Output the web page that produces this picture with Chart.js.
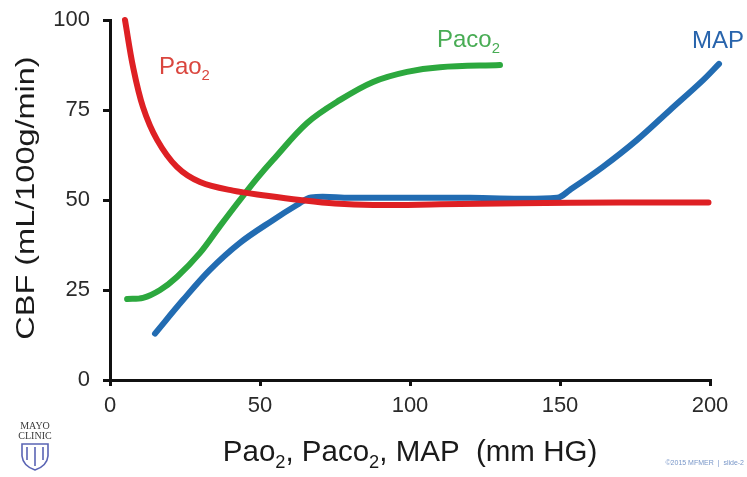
<!DOCTYPE html>
<html>
<head>
<meta charset="utf-8">
<script src="https://cdn.jsdelivr.net/npm/chart.js@4/dist/chart.umd.min.js"></script>
<style>
  html, body { margin: 0; padding: 0; background: #ffffff; }
  #wrap { width: 747px; height: 477px; position: relative; }
</style>
</head>
<body>
<div id="wrap"><canvas id="c" width="747" height="477"></canvas></div>
<script>
// ---- data ----
const xTicks = [0, 50, 100, 150, 200];
const yTicks = [0, 25, 50, 75, 100];

const paO2X = [5, 7.7, 11, 15.7, 22.3, 30, 41, 52.3, 63.3, 75, 87.7, 110, 136.7, 170, 199.5];
const paO2Y = [100, 86.9, 75.8, 66.7, 59.2, 55, 52.6, 51.2, 50.0, 49.0, 48.6, 48.8, 49.1, 49.3, 49.3];

const paCO2X = [5.7, 11, 16.7, 22.3, 30, 36.7, 43.3, 49, 54.3, 65.7, 76.7, 87.7, 99, 110, 130];
const paCO2Y = [22.5, 22.8, 25, 28.6, 35.3, 42.8, 50, 56, 61.1, 71.4, 77.8, 82.8, 85.6, 86.9, 87.5];

const mapX = [15, 24.3, 33.3, 43.3, 54.3, 62.3, 67, 80, 100, 120, 149, 153.3, 164.3, 175.7, 186.7, 197.7, 203];
const mapY = [12.9, 22.2, 30.6, 38.1, 44.4, 48.6, 50.7, 50.6, 50.6, 50.6, 50.6, 52.8, 59.2, 66.7, 75, 83.3, 87.8];

const seriesNames = ['Pao', 'Paco', 'MAP'];
const xTitle = [['Pao'], ['2', 1], [', Paco'], ['2', 1], [', MAP  (mm HG)']];
const yTitle = 'CBF (mL/100g/min)';
const footnote = '\u00A92015 MFMER  |  slide-2';

// ---- styling ----
const RED = 'rgb(222,32,36)';
const GREEN = 'rgb(44,168,62)';
const BLUE = 'rgb(34,108,178)';
const FONT = '"Liberation Sans", Arial, Helvetica, sans-serif';

function pts(xs, ys) { return xs.map((x, i) => ({ x: x, y: ys[i] })); }

function drawRich(ctx, x, y, segs, size, color, align) {
  const items = segs.map(s => {
    const fs = s[1] ? size * 0.62 : size;
    ctx.font = fs + 'px ' + FONT;
    return { t: s[0], fs: fs, w: ctx.measureText(s[0]).width, dy: s[1] ? size * 0.24 : 0 };
  });
  const total = items.reduce((a, b) => a + b.w, 0);
  let cx = align === 'center' ? x - total / 2 : x;
  ctx.fillStyle = color;
  ctx.textBaseline = 'alphabetic';
  ctx.textAlign = 'left';
  items.forEach(it => {
    ctx.font = it.fs + 'px ' + FONT;
    ctx.fillText(it.t, cx, y + it.dy);
    cx += it.w;
  });
}

const textPlugin = {
  id: 'texts',
  afterDraw(chart) {
    const ctx = chart.ctx;
    const xs = chart.scales.x, ys = chart.scales.y;
    const ca = chart.chartArea;
    ctx.save();
    // series labels
    drawRich(ctx, xs.getPixelForValue(16.3), ys.getPixelForValue(85), [[seriesNames[0]], ['2', 1]], 24, 'rgb(218,70,62)', 'left');
    drawRich(ctx, xs.getPixelForValue(109), ys.getPixelForValue(92.5), [[seriesNames[1]], ['2', 1]], 24, 'rgb(72,172,84)', 'left');
    drawRich(ctx, xs.getPixelForValue(194), ys.getPixelForValue(92.3), [[seriesNames[2]]], 24, 'rgb(40,100,172)', 'left');
    // x title
    drawRich(ctx, (ca.left + ca.right) / 2, 461, xTitle, 29.5, '#1a1a1a', 'center');
    // y title
    ctx.save();
    ctx.translate(34, (ca.top + ca.bottom) / 2 - 2);
    ctx.rotate(-Math.PI / 2);
    ctx.scale(1.16, 0.94);
    drawRich(ctx, 0, 0, [[yTitle]], 28, '#1a1a1a', 'center');
    ctx.restore();
    // footnote
    ctx.font = '7px ' + FONT;
    ctx.fillStyle = 'rgb(120,150,200)';
    ctx.textAlign = 'right';
    ctx.textBaseline = 'middle';
    ctx.fillText(footnote, 744, 463);
    // logo
    ctx.fillStyle = '#3a3a3a';
    ctx.textAlign = 'center';
    ctx.font = '10px "Liberation Serif", "Times New Roman", serif';
    ctx.fillText('MAYO', 35, 426);
    ctx.fillText('CLINIC', 35, 436);
    ctx.strokeStyle = 'rgb(90,100,180)';
    ctx.lineWidth = 1.6;
    ctx.beginPath();
    ctx.moveTo(22, 444); ctx.lineTo(48, 444); ctx.lineTo(48, 456);
    ctx.quadraticCurveTo(47, 466, 35, 470);
    ctx.quadraticCurveTo(23, 466, 22, 456); ctx.closePath();
    ctx.stroke();
    ctx.beginPath();
    ctx.moveTo(27, 447); ctx.lineTo(27, 460);
    ctx.moveTo(35, 447); ctx.lineTo(35, 466);
    ctx.moveTo(43, 447); ctx.lineTo(43, 460);
    ctx.stroke();
    ctx.restore();
  }
};

const common = { fill: false, pointRadius: 0, borderWidth: 6, tension: 0.35, borderCapStyle: 'round', borderJoinStyle: 'round', clip: false };

new Chart(document.getElementById('c'), {
  type: 'line',
  data: {
    datasets: [
      Object.assign({ label: 'Pao2', data: pts(paO2X, paO2Y), borderColor: RED }, common),
      Object.assign({ label: 'MAP', data: pts(mapX, mapY), borderColor: BLUE }, common),
      Object.assign({ label: 'Paco2', data: pts(paCO2X, paCO2Y), borderColor: GREEN }, common)
    ]
  },
  options: {
    responsive: false,
    animation: false,
    devicePixelRatio: 1,
    layout: { padding: { left: 0, top: 20, right: 37, bottom: 0 } },
    plugins: { legend: { display: false }, tooltip: { enabled: false } },
    scales: {
      x: {
        type: 'linear', min: 0, max: 200,
        afterFit(s) { s.height = 97; s.paddingLeft = 0; s.paddingRight = 0; },
        afterBuildTicks(s) { s.ticks = xTicks.map(v => ({ value: v })); },
        border: { display: true, color: '#111', width: 3 },
        grid: { display: true, drawOnChartArea: false, drawTicks: true, tickLength: 6, color: '#111', lineWidth: 3 },
        ticks: { color: '#2a2a2a', font: { size: 22, family: FONT }, padding: 7, maxRotation: 0 }
      },
      y: {
        type: 'linear', min: 0, max: 100,
        afterFit(s) { s.width = 110; s.paddingTop = 0; s.paddingBottom = 0; },
        afterBuildTicks(s) { s.ticks = yTicks.map(v => ({ value: v })); },
        border: { display: true, color: '#111', width: 3 },
        grid: { display: true, drawOnChartArea: false, drawTicks: true, tickLength: 7, color: '#111', lineWidth: 3 },
        ticks: { color: '#2a2a2a', font: { size: 22, family: FONT }, padding: 13 }
      }
    }
  },
  plugins: [textPlugin]
});
</script>
</body>
</html>
